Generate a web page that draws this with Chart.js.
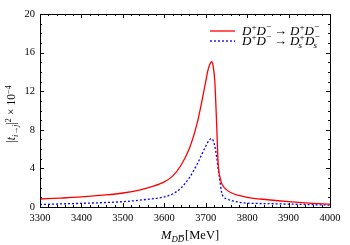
<!DOCTYPE html>
<html><head><meta charset="utf-8">
<script src="https://cdn.jsdelivr.net/npm/chart.js@4/dist/chart.umd.min.js"></script>
<style>html,body{margin:0;padding:0;background:#fff;}#w{width:350px;height:245px;}</style>
</head><body><div id="w"><canvas id="c" width="350" height="245"></canvas></div>
<script>
const massRed = [3300,3350,3400,3450,3500,3540,3570,3600,3620,3640,3660,3680,3690,3700,3705,3710,3714,3718,3722,3726,3730,3735,3740,3750,3760,3780,3800,3850,3900,3950,4000];
const tDD     = [0.83,0.93,1.04,1.22,1.45,1.75,2.1,2.6,3.2,4.3,6.0,8.8,10.8,13.0,14.1,14.8,15.05,14.6,13.0,9.0,4.5,3.0,2.3,1.8,1.5,1.2,1.0,0.75,0.55,0.4,0.3];
const massBlue = [3300,3350,3400,3450,3500,3550,3600,3620,3640,3660,3670,3680,3690,3700,3708,3714,3718,3722,3726,3730,3734,3738,3742,3750,3760,3780,3800,3850,3900,3950,4000];
const tDsDs    = [0.25,0.32,0.38,0.45,0.55,0.75,1.05,1.35,1.95,3.0,3.7,4.5,5.4,6.3,6.9,7.1,6.9,6.3,5.3,4.0,2.8,1.6,1.1,0.85,0.7,0.5,0.4,0.35,0.3,0.25,0.2];
const xTicks = [3300,3400,3500,3600,3700,3800,3900,4000];
const yTicks = [0,4,8,12,16,20];

const SERIF = '"Liberation Serif","DejaVu Serif",serif';
function rich(ctx, parts, x, y, size) {
  let cx = x;
  for (const p of parts) {
    const s = p.sup || p.sub ? size * 0.7 : size;
    ctx.font = (p.it ? 'italic ' : '') + s + 'px ' + SERIF;
    const dy = p.sup ? -size * 0.38 : (p.sub ? size * 0.25 : 0);
    ctx.fillText(p.t, cx, y + dy);
    const w = ctx.measureText(p.t).width;
    if (p.bar) { ctx.fillRect(cx + 1, y + dy - s * 0.8, w - 1, 0.7); }
    cx += w + (p.gap || 0);
  }
  return cx - x;
}

const deco = {
  id: 'deco',
  afterDraw(chart) {
    const ctx = chart.ctx, a = chart.chartArea, xs = chart.scales.x, ys = chart.scales.y;
    ctx.save();
    ctx.strokeStyle = '#000'; ctx.lineWidth = 1;
    ctx.strokeRect(Math.round(a.left) + 0.5, Math.round(a.top) + 0.5, Math.round(a.right - a.left), Math.round(a.bottom - a.top));
    ctx.beginPath();
    for (let v = 3300; v <= 4000; v += 20) {
      const px = Math.round(xs.getPixelForValue(v)) + 0.5;
      const L = (v % 100 === 0) ? 4 : 2;
      ctx.moveTo(px, a.bottom); ctx.lineTo(px, a.bottom - L);
      ctx.moveTo(px, a.top); ctx.lineTo(px, a.top + L);
    }
    for (let v = 0; v <= 20; v += 1) {
      const py = Math.round(ys.getPixelForValue(v)) + 0.5;
      const L = (v % 4 === 0) ? 4 : 2;
      ctx.moveTo(a.left, py); ctx.lineTo(a.left + L, py);
      ctx.moveTo(a.right, py); ctx.lineTo(a.right - L, py);
    }
    ctx.stroke();
    // legend
    ctx.fillStyle = '#000'; ctx.textBaseline = 'alphabetic';
    ctx.lineWidth = 1.3;
    ctx.strokeStyle = '#ff0000';
    ctx.beginPath(); ctx.moveTo(210, 31); ctx.lineTo(235, 31); ctx.stroke();
    ctx.strokeStyle = '#0000ff'; ctx.setLineDash([2, 2]);
    ctx.beginPath(); ctx.moveTo(210, 41); ctx.lineTo(235, 41); ctx.stroke();
    ctx.setLineDash([]);
    const F = 13;
    rich(ctx, [{t:'D',it:1},{t:'+',sup:1},{t:'D',it:1},{t:'−',sup:1,gap:3},{t:'→',gap:3},{t:'D',it:1},{t:'+',sup:1},{t:'D',it:1},{t:'−',sup:1}], 242, 35, F);
    rich(ctx, [{t:'D',it:1},{t:'+',sup:1},{t:'D',it:1},{t:'−',sup:1,gap:3},{t:'→',gap:3},{t:'D',it:1},{t:'+',sup:1,gap:-6},{t:'s',sub:1,it:1,gap:3},{t:'D',it:1},{t:'−',sup:1,gap:-6},{t:'s',sub:1,it:1}], 242, 45, F);
    // x title
    rich(ctx, [{t:'M',it:1},{t:'D',sub:1,it:1},{t:'D',sub:1,it:1,bar:1,gap:1},{t:'[MeV]'}], 161, 239, 12.5);
    // y title
    ctx.translate(15, 114); ctx.rotate(-Math.PI / 2);
    const parts = [{t:'|'},{t:'t',it:1},{t:'i→j',sub:1,it:1},{t:'|'},{t:'2',sup:1,gap:3},{t:'×',gap:3},{t:'10'},{t:'−4',sup:1}];
    ctx.globalAlpha = 0; const w = rich(ctx, parts, 0, 0, 11.5); ctx.globalAlpha = 1;
    rich(ctx, parts, -w / 2, 0, 11.5);
    ctx.restore();
  }
};

new Chart(document.getElementById('c'), {
  type: 'line',
  data: {
    datasets: [
      { data: massRed.map((m, i) => ({x: m, y: tDD[i]})), borderColor: '#ff0000', borderWidth: 1.3, pointRadius: 0, cubicInterpolationMode: 'monotone', fill: false },
      { data: massBlue.map((m, i) => ({x: m, y: tDsDs[i]})), borderColor: '#0000ff', borderWidth: 1.3, borderDash: [2, 2], pointRadius: 0, cubicInterpolationMode: 'monotone', fill: false }
    ]
  },
  options: {
    responsive: false, animation: false, devicePixelRatio: 1,
    layout: { padding: { top: 14, right: 20, left: 0, bottom: 0 } },
    plugins: { legend: { display: false }, tooltip: { enabled: false } },
    scales: {
      x: {
        type: 'linear', min: 3300, max: 4000,
        afterBuildTicks: s => { s.ticks = xTicks.map(v => ({value: v})); },
        afterFit: s => { s.height = 38; },
        grid: { display: false, drawTicks: false },
        border: { display: false },
        ticks: { color: '#000', font: { family: SERIF, size: 10.5 }, padding: 5, maxRotation: 0, callback: v => String(v) }
      },
      y: {
        min: 0, max: 20,
        afterBuildTicks: s => { s.ticks = yTicks.map(v => ({value: v})); },
        afterFit: s => { s.width = 40; },
        grid: { display: false, drawTicks: false },
        border: { display: false },
        ticks: { color: '#000', font: { family: SERIF, size: 10.5 }, padding: 5, callback: v => String(v) }
      }
    }
  },
  plugins: [deco]
});
</script>
</body></html>
